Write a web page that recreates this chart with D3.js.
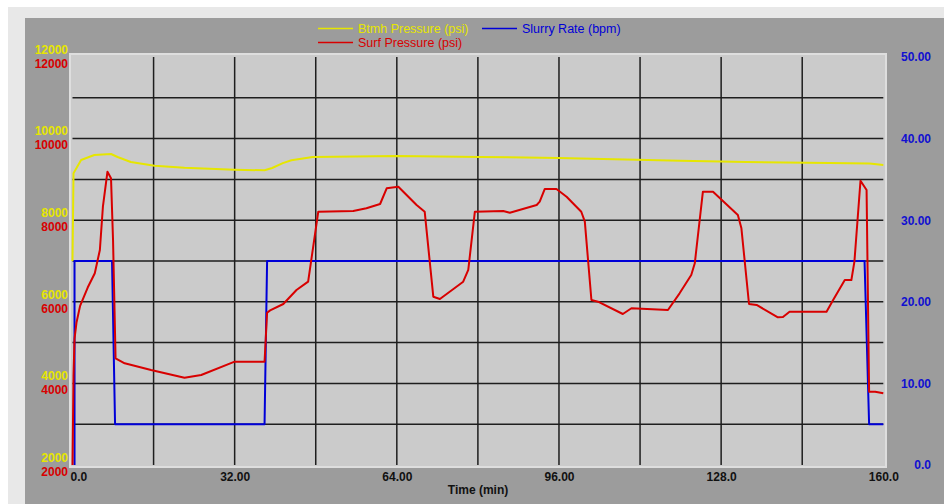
<!DOCTYPE html>
<html>
<head>
<meta charset="utf-8">
<script src="https://cdn.jsdelivr.net/npm/d3@7"></script>
<style>
  html, body { margin: 0; padding: 0; background: #ffffff; }
  svg { display: block; font-family: Arial, "Liberation Sans", sans-serif; }
</style>
</head>
<body>
<svg id="chart" width="944" height="504"></svg>
<script>
// Time axis (min)
const timeTicks = [0, 32, 64, 96, 128, 160];
const timeTickLabels = ["0.0", "32.00", "64.00", "96.00", "128.0", "160.0"];
// Pressure axes (psi)
const pressureTicks = [2000, 4000, 6000, 8000, 10000, 12000];
// Rate axis (bpm)
const rateTicks = [0, 10, 20, 30, 40, 50];
const rateTickLabels = ["0.0", "10.00", "20.00", "30.00", "40.00", "50.00"];

// Bottom-hole pressure (psi)
const btmhTime = [0, 0.2, 1.7, 4.3, 7.6, 8.9, 11.5, 16.2, 22.1, 32, 37.9, 39.4, 41.5, 43.2, 47.4, 64, 80.4, 96, 111.3, 120, 133, 149.4, 157.3, 160];
const btmhPressure = [7000, 9150, 9476, 9598, 9623, 9549, 9426, 9336, 9287, 9238, 9223, 9280, 9400, 9468, 9549, 9574, 9549, 9525, 9483, 9458, 9426, 9402, 9390, 9353];

// Surface pressure (psi)
const surfTime = [0, 0.2, 0.4, 0.8, 1.5, 3, 4.4, 5.4, 6.0, 6.9, 7.6, 8.0, 8.5, 10.3, 15.5, 22.1, 25.4, 32, 37.9, 38.4, 39, 41.6, 44.2, 46.5, 48.5, 55.4, 58, 60.7, 62, 64.3, 67.9, 69.5, 71.2, 72.5, 77.1, 78.1, 79.4, 85, 86.3, 91.6, 92.2, 93.2, 95.5, 97.5, 100.4, 101.1, 102.4, 103.7, 108.6, 110.3, 117.5, 119.8, 122.1, 122.8, 124.4, 126.4, 131.3, 132, 133.5, 135, 139.2, 140.2, 141.5, 148.8, 150.1, 152.4, 153.7, 154.3, 155.5, 156.7, 157.2, 158.4, 160];
const surfPressure = [2000, 4200, 5100, 5500, 5900, 6350, 6700, 7270, 8330, 9190, 9030, 7515, 4615, 4493, 4328, 4140, 4206, 4532, 4532, 5733, 5790, 5946, 6289, 6493, 8208, 8226, 8292, 8397, 8782, 8821, 8373, 8208, 6125, 6069, 6493, 6780, 8208, 8226, 8184, 8373, 8454, 8765, 8765, 8576, 8208, 7964, 6044, 6003, 5701, 5841, 5800, 6208, 6657, 6943, 8699, 8699, 8128, 7802, 5946, 5922, 5620, 5628, 5757, 5757, 6044, 6534, 6534, 6983, 8968, 8740, 3797, 3797, 3757];

// Slurry rate (bpm)
const rateTime = [0.4, 0.4, 7.8, 8.4, 37.9, 38.4, 156.3, 157.2, 160];
const slurryRate = [0, 25, 25, 5, 5, 25, 25, 5, 5];

const YELLOW = "#e6e600";
const RED = "#d80000";
const BLUE = "#0000d8";

const svg = d3.select("#chart");

// Panels
svg.append("rect").attr("x", 8).attr("y", 7).attr("width", 936).attr("height", 497).attr("fill", "#e8e8e8");
svg.append("rect").attr("x", 25).attr("y", 18).attr("width", 919).attr("height", 486).attr("fill", "#9c9c9c");
svg.append("rect").attr("x", 70).attr("y", 54).attr("width", 816).attr("height", 413)
  .attr("fill", "#cbcbcb").attr("stroke", "#dedede").attr("stroke-width", 2);

const x = d3.scaleLinear().domain([0, 160]).range([72.5, 883.3]);
const yP = d3.scaleLinear().domain([2000, 12000]).range([465, 57]);
const yR = d3.scaleLinear().domain([0, 50]).range([465, 57]);

// Grid
const grid = svg.append("g").attr("stroke", "#1e1e1e").attr("stroke-width", 1.5);
grid.selectAll("line.h").data(d3.range(3000, 12000, 1000)).join("line")
  .attr("class", "h").attr("x1", x(0)).attr("x2", x(160))
  .attr("y1", d => yP(d)).attr("y2", d => yP(d));
grid.selectAll("line.v").data(d3.range(16, 160, 16)).join("line")
  .attr("class", "v").attr("y1", yP(12000)).attr("y2", yP(2000))
  .attr("x1", d => x(d)).attr("x2", d => x(d));

// Axes
function styleAxis(g, color) {
  g.select(".domain").remove();
  g.selectAll(".tick line").remove();
  g.selectAll("text").attr("fill", color).attr("font-weight", "bold").attr("font-size", 12)
    .attr("font-family", "Arial, 'Liberation Sans', sans-serif");
}
svg.append("g").attr("transform", "translate(68,-7.5)")
  .call(d3.axisLeft(yP).tickValues(pressureTicks).tickSize(0).tickPadding(0).tickFormat(d3.format("d")))
  .call(g => styleAxis(g, YELLOW));
svg.append("g").attr("transform", "translate(68,6.5)")
  .call(d3.axisLeft(yP).tickValues(pressureTicks).tickSize(0).tickPadding(0).tickFormat(d3.format("d")))
  .call(g => styleAxis(g, RED));
svg.append("g").attr("transform", "translate(931,0)")
  .call(d3.axisLeft(yR).tickValues(rateTicks).tickSize(0).tickPadding(0).tickFormat((d, i) => rateTickLabels[i]))
  .call(g => styleAxis(g, "#1010d0"));
svg.append("g").attr("transform", "translate(0,472)")
  .call(d3.axisBottom(x).tickValues(timeTicks).tickSize(0).tickPadding(0).tickFormat((d, i) => timeTickLabels[i]))
  .call(g => styleAxis(g, "#111111"))
  .call(g => g.selectAll("text").filter(d => d === 0).attr("text-anchor", "start").attr("x", -2.5));

svg.append("text").attr("x", 478).attr("y", 493.5).attr("text-anchor", "middle")
  .attr("font-size", 12).attr("font-weight", "bold").attr("fill", "#111111").text("Time (min)");

// Series
const lineP = d3.line().x(d => x(d[0])).y(d => yP(d[1]));
const lineR = d3.line().x(d => x(d[0])).y(d => yR(d[1]));
const series = svg.append("g").attr("fill", "none").attr("stroke-width", 2).attr("stroke-linejoin", "round");
series.append("path").attr("stroke", YELLOW).attr("d", lineP(d3.zip(btmhTime, btmhPressure)));
series.append("path").attr("stroke", BLUE).attr("d", lineR(d3.zip(rateTime, slurryRate)));
series.append("path").attr("stroke", RED).attr("d", lineP(d3.zip(surfTime, surfPressure)));

// Legend
const legendItems = [
  { label: "Btmh Pressure (psi)", color: YELLOW, lx: 318, ly: 28.5 },
  { label: "Surf Pressure (psi)", color: RED, lx: 318, ly: 42.5 },
  { label: "Slurry Rate (bpm)", color: BLUE, lx: 482, ly: 28.5 }
];
const legend = svg.append("g");
legendItems.forEach(it => {
  legend.append("line").attr("x1", it.lx).attr("x2", it.lx + 35).attr("y1", it.ly).attr("y2", it.ly)
    .attr("stroke", it.color).attr("stroke-width", 1.5);
  legend.append("text").attr("x", it.lx + 40).attr("y", it.ly + 4.5).attr("font-size", 12.5)
    .attr("fill", it.color).text(it.label);
});
</script>
</body>
</html>
